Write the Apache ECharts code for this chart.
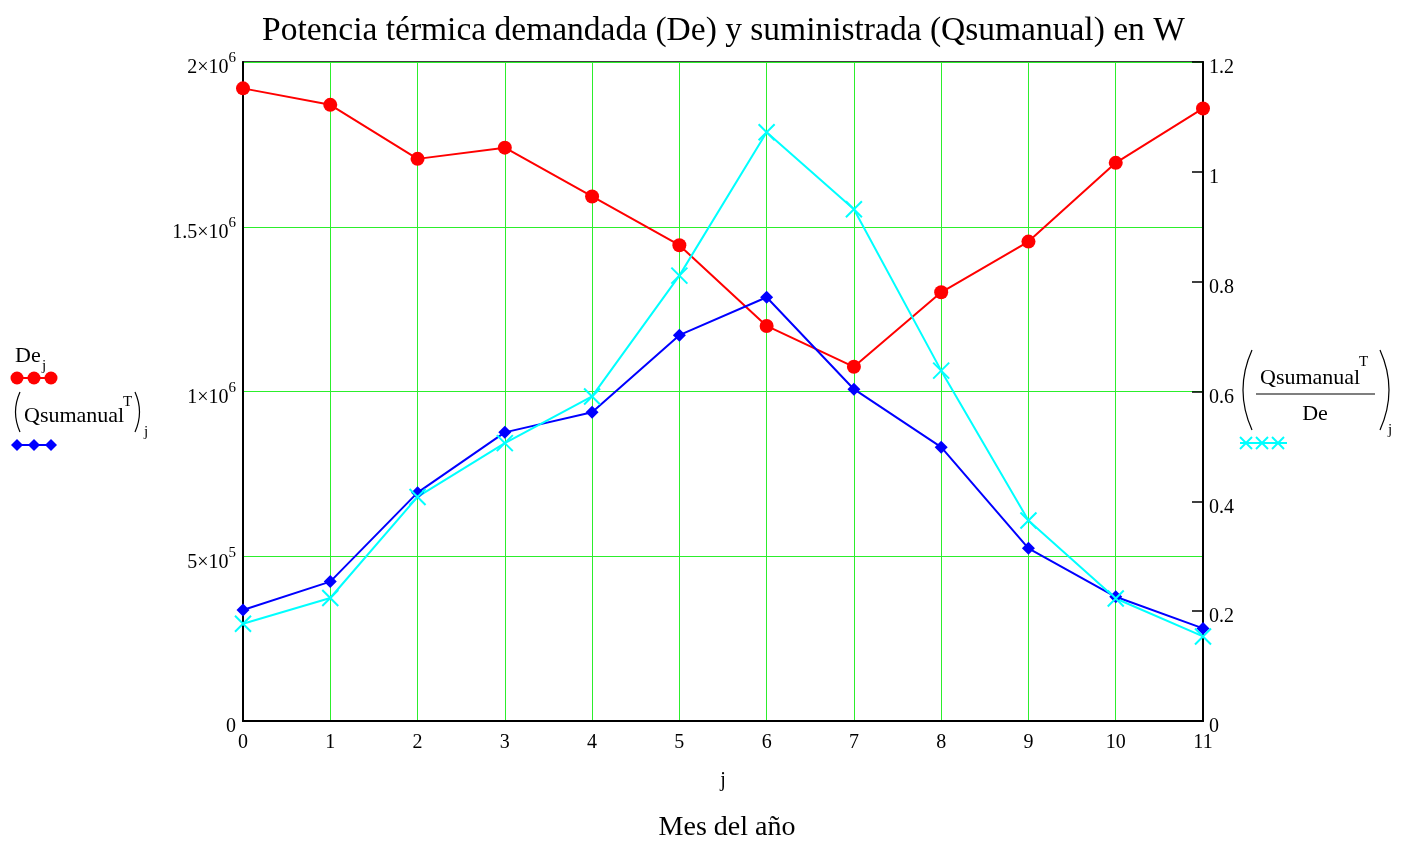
<!DOCTYPE html>
<html>
<head>
<meta charset="utf-8">
<script src="https://cdn.jsdelivr.net/npm/echarts@6/dist/echarts.min.js"></script>
<style>
html,body{margin:0;padding:0;background:#fff;}
#chart{width:1407px;height:842px;}
</style>
</head>
<body>
<div id="chart"></div>
<script>
// meses j = 0..11
var meses = [0, 1, 2, 3, 4, 5, 6, 7, 8, 9, 10, 11];
// potencia demandada De (W)
var De = [1920000, 1870000, 1706000, 1740000, 1592000, 1444000, 1199000, 1075000, 1301000, 1455000, 1694000, 1859000];
// potencia suministrada Qsumanual (W)
var Qsum = [337000, 423000, 693000, 876000, 937000, 1171000, 1286000, 1007000, 831000, 524000, 377000, 281000];
// fraccion Qsumanual/De
var frac = [0.177, 0.224, 0.408, 0.506, 0.591, 0.811, 1.072, 0.932, 0.638, 0.365, 0.223, 0.154];

var serif = 'Liberation Serif';
var verde = '#2cee2c';
var X_SYM = 'path://M0,0L10,10M10,0L0,10';

function pares(arr){
    return meses.map(function(m, i){ return [m, arr[i]]; });
}

// etiquetas tipo mathcad 2x10^6
function fmtIzq(v){
    if (v === 0) return '{b|0}';
    var e = Math.floor(Math.log10(v) + 1e-9);
    var m = Math.round(v / Math.pow(10, e) * 10) / 10;
    return '{b|' + m + '×10}{sup|' + e + '}';
}

var myChart = echarts.init(document.getElementById('chart'));

// parentesis dibujado como curva
function paren(x, y1, y2, dx){
    return {
        type: 'bezierCurve',
        shape: {x1: x, y1: y1, x2: x, y2: y2, cpx1: x + dx, cpy1: (y1 + y2) / 2},
        style: {stroke: '#000', lineWidth: 1.2, fill: null}
    };
}
function txt(x, y, s, size, align){
    return {
        type: 'text', x: x, y: y,
        style: {text: s, font: size + 'px "' + serif + '"', fill: '#000', textAlign: align || 'left', textVerticalAlign: 'middle'}
    };
}
function linea(x1, y1, x2, y2, color){
    return {type: 'line', shape: {x1: x1, y1: y1, x2: x2, y2: y2}, style: {stroke: color, lineWidth: 2}};
}

var graficos = [
    // leyenda izquierda De_j
    txt(15, 356, 'De', 22),
    txt(42, 366, 'j', 15),
    linea(12, 378, 56, 378, '#ff0000'),
    {type: 'circle', shape: {cx: 17, cy: 378, r: 6.5}, style: {fill: '#ff0000'}},
    {type: 'circle', shape: {cx: 34, cy: 378, r: 6.5}, style: {fill: '#ff0000'}},
    {type: 'circle', shape: {cx: 51, cy: 378, r: 6.5}, style: {fill: '#ff0000'}},
    // (Qsumanual^T)_j
    paren(20, 392, 432, -9),
    txt(24, 416, 'Qsumanual', 22),
    txt(123, 402, 'T', 15),
    paren(135, 392, 432, 9),
    txt(144, 432, 'j', 15),
    linea(12, 445, 56, 445, '#0000ff'),
    {type: 'polygon', shape: {points: [[17, 439], [23, 445], [17, 451], [11, 445]]}, style: {fill: '#0000ff'}},
    {type: 'polygon', shape: {points: [[34, 439], [40, 445], [34, 451], [28, 445]]}, style: {fill: '#0000ff'}},
    {type: 'polygon', shape: {points: [[51, 439], [57, 445], [51, 451], [45, 445]]}, style: {fill: '#0000ff'}},
    // leyenda derecha (Qsumanual^T / De)_j
    paren(1252, 350, 430, -18),
    txt(1260, 378, 'Qsumanual', 22),
    txt(1359, 362, 'T', 15),
    {type: 'line', shape: {x1: 1256, y1: 394, x2: 1375, y2: 394}, style: {stroke: '#000', lineWidth: 1.2}},
    txt(1315, 414, 'De', 22, 'center'),
    paren(1380, 350, 430, 18),
    txt(1388, 430, 'j', 15),
    linea(1240, 443, 1287, 443, '#00ffff'),
    linea(1240, 437, 1252, 449, '#00ffff'), linea(1252, 437, 1240, 449, '#00ffff'),
    linea(1256, 437, 1268, 449, '#00ffff'), linea(1268, 437, 1256, 449, '#00ffff'),
    linea(1272, 437, 1284, 449, '#00ffff'), linea(1284, 437, 1272, 449, '#00ffff'),
    // titulo eje x
    txt(727, 828, 'Mes del año', 28, 'center')
];

myChart.setOption({
    animation: false,
    backgroundColor: '#fff',
    title: {
        text: 'Potencia térmica demandada (De) y suministrada (Qsumanual) en W',
        left: 257, top: 9,
        textStyle: {fontFamily: serif, fontSize: 33.5, fontWeight: 'normal', color: '#000'}
    },
    grid: {
        left: 243, right: 204, top: 62, bottom: 121,
        show: true, borderColor: '#000', borderWidth: 1.5
    },
    xAxis: {
        type: 'value', min: 0, max: 11, interval: 1,
        name: 'j', nameLocation: 'middle', nameGap: 50,
        nameTextStyle: {fontFamily: serif, fontSize: 20, color: '#000'},
        axisLine: {show: true, lineStyle: {color: '#000', width: 2}},
        axisTick: {show: false},
        axisLabel: {fontFamily: serif, fontSize: 20, color: '#000', margin: 12},
        splitLine: {show: true, lineStyle: {color: verde, width: 1}}
    },
    yAxis: [{
        type: 'value', min: 0, max: 2000000, interval: 500000,
        axisLine: {show: true, lineStyle: {color: '#000', width: 2}},
        axisTick: {show: false},
        axisLabel: {
            fontFamily: serif, fontSize: 20, color: '#000', margin: 7,
            formatter: fmtIzq,
            rich: {
                b: {fontFamily: serif, fontSize: 20, color: '#000', padding: [12, 0, 0, 0]},
                sup: {fontFamily: serif, fontSize: 15, color: '#000', verticalAlign: 'top', padding: [5, 0, 0, 0]}
            }
        },
        splitLine: {show: true, lineStyle: {color: verde, width: 1}}
    }, {
        type: 'value', min: 0, max: 1.2, interval: 0.2, position: 'right',
        axisLine: {show: true, lineStyle: {color: '#000', width: 2}},
        axisTick: {show: true, inside: true, length: 11, lineStyle: {color: '#000', width: 1.5}},
        axisLabel: {
            fontFamily: serif, fontSize: 20, color: '#000', margin: 6,
            formatter: function(v){ return '{a|' + (Math.round(v * 10) / 10) + '}'; },
            rich: {a: {fontFamily: serif, fontSize: 20, color: '#000', padding: [12, 0, 0, 0]}}
        },
        splitLine: {show: false}
    }],
    series: [{
        name: 'De', type: 'line', yAxisIndex: 0,
        data: pares(De),
        symbol: 'circle', symbolSize: 14,
        lineStyle: {color: '#ff0000', width: 2},
        itemStyle: {color: '#ff0000'}
    }, {
        name: 'Qsumanual', type: 'line', yAxisIndex: 0,
        data: pares(Qsum),
        symbol: 'diamond', symbolSize: 13,
        lineStyle: {color: '#0000ff', width: 2},
        itemStyle: {color: '#0000ff'}
    }, {
        name: 'Qsumanual/De', type: 'line', yAxisIndex: 1,
        data: pares(frac),
        symbol: X_SYM, symbolSize: 16,
        lineStyle: {color: '#00ffff', width: 2},
        itemStyle: {color: 'rgba(0,0,0,0)', borderColor: '#00ffff', borderWidth: 2}
    }],
    graphic: graficos
});
</script>
</body>
</html>
